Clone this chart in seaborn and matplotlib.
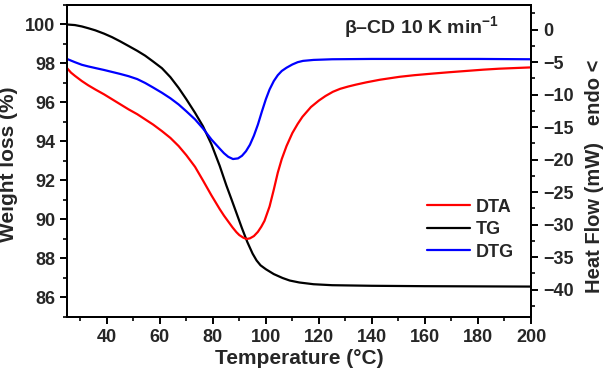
import matplotlib
matplotlib.use("Agg")
import matplotlib.pyplot as plt
from matplotlib.ticker import MultipleLocator
import seaborn as sns
import pandas as pd

# ---- data ----
t_tg = [25, 28, 30.6, 33, 35.7, 39, 42, 45, 48.2, 51.5, 54.5, 57.5, 60.8, 64, 67.1, 70, 73.3, 76.3,
        79.5, 82.6, 85.1, 87, 89, 91, 93, 95, 96.5, 98, 100, 103, 106.3, 109, 112.6, 118, 125,
        140, 160, 180, 200]
tg = [100.0, 99.97, 99.9, 99.81, 99.7, 99.53, 99.35, 99.14, 98.9, 98.65, 98.4, 98.1, 97.76, 97.3, 96.75,
      96.17, 95.47, 94.78, 93.85, 92.75, 91.75, 91.05, 90.3, 89.55, 88.85, 88.25, 87.9, 87.65, 87.45, 87.2,
      87.0, 86.87, 86.77, 86.68, 86.63, 86.6, 86.58, 86.57, 86.56]

t_dta = [25, 26.5, 28, 30.6, 33, 35.7, 39, 42, 45, 48.2, 51.5, 54.5, 57.5, 60.8, 64, 67.1, 70, 73.3,
         76.3, 79.5, 82.6, 84.2, 85.8, 87.4, 88.9, 90, 91.5, 92.7, 94, 95.5, 97, 98.3, 99.5,
         101.4, 103, 104.5, 106, 107.8, 110, 112, 113.8, 117, 120, 122.5, 125.3, 128, 131,
         134, 137.9, 143, 150.4, 156, 163, 169, 175.5, 182, 188, 194, 200]
dta = [-5.9, -6.6, -7.1, -7.9, -8.55, -9.2, -9.95, -10.7, -11.45, -12.25, -13.0, -13.8, -14.6, -15.6, -16.65,
       -17.9, -19.3, -21.1, -23.2, -25.5, -27.6, -28.6, -29.5, -30.4, -31.15, -31.6, -32.0, -32.2, -32.1,
       -31.75, -31.1, -30.3, -29.4, -27.2, -24.6, -22.0, -19.9, -17.9, -15.9, -14.5, -13.4, -11.9, -10.9,
       -10.2, -9.55, -9.1, -8.75, -8.45, -8.1, -7.7, -7.25, -7.0, -6.75, -6.55, -6.35, -6.15, -6.0, -5.9, -5.8]

t_dtg = [25, 28, 30.6, 33, 35.7, 39, 42, 45, 48.2, 51.5, 54.5, 57.5, 60.8, 64, 67.1, 70, 73.3, 76.3,
         79.5, 82.6, 84.2, 85.8, 87.6, 89.5, 91, 92.5, 94, 95.5, 97, 98.5, 100, 101.4, 103,
         104.5, 106, 107.8, 110, 112, 114, 118, 125, 140, 160, 180, 200]
dtg = [-4.5, -5.0, -5.4, -5.65, -5.9, -6.2, -6.5, -6.8, -7.15, -7.6, -8.2, -8.9, -9.7, -10.55, -11.5, -12.55,
       -13.8, -15.2, -16.9, -18.3, -19.0, -19.55, -19.9, -19.8, -19.4, -18.7, -17.7, -16.3, -14.6, -12.6,
       -10.7, -9.2, -7.9, -7.0, -6.35, -5.85, -5.35, -5.0, -4.8, -4.65, -4.55, -4.5, -4.5, -4.5, -4.55]

labels = ["DTA", "TG", "DTG"]
colors = ["#ff0000", "#000000", "#0000ff"]

df_tg = pd.DataFrame({"T": t_tg, "v": tg})
df_dta = pd.DataFrame({"T": t_dta, "v": dta})
df_dtg = pd.DataFrame({"T": t_dtg, "v": dtg})

sns.set_style("ticks")
plt.rcParams["font.family"] = ["Liberation Sans", "DejaVu Sans"]
plt.rcParams["font.weight"] = "bold"
plt.rcParams["mathtext.fontset"] = "custom"
plt.rcParams["mathtext.rm"] = "Liberation Sans:bold"
plt.rcParams["mathtext.bf"] = "Liberation Sans:bold"
plt.rcParams["mathtext.it"] = "Liberation Sans:bold"

fig = plt.figure(figsize=(6.05, 3.78), dpi=100)
ax = fig.add_axes([0.1107, 0.1614, 0.8777 - 0.1107, 0.9868 - 0.1614])
ax2 = ax.twinx()

lw = 1.6
sns.lineplot(data=df_tg, x="T", y="v", ax=ax, color=colors[1], lw=lw, label=labels[1], legend=False)
sns.lineplot(data=df_dta, x="T", y="v", ax=ax2, color=colors[0], lw=lw, label=labels[0], legend=False)
sns.lineplot(data=df_dtg, x="T", y="v", ax=ax2, color=colors[2], lw=lw, label=labels[2], legend=False)

ax.set_xlim(25, 200)
ax.set_ylim(85, 101)
ax2.set_ylim(-44.2, 3.8)

ax.xaxis.set_major_locator(MultipleLocator(20))
ax.xaxis.set_minor_locator(MultipleLocator(10))
ax.yaxis.set_major_locator(MultipleLocator(2))
ax.yaxis.set_minor_locator(MultipleLocator(1))
ax2.yaxis.set_major_locator(MultipleLocator(5))
ax2.yaxis.set_minor_locator(MultipleLocator(2.5))

for a in (ax, ax2):
    for s in a.spines.values():
        s.set_linewidth(1.4)
        s.set_color("black")
    a.tick_params(which="major", length=5, width=1.4, labelsize=13, color="black", direction="out")
    a.tick_params(which="minor", length=3, width=1.2, color="black", direction="out")
ax.tick_params(axis="x", which="both", top=False)
ax.tick_params(axis="y", which="both", right=False, left=True)
ax2.tick_params(axis="y", which="both", right=True, left=False)

for lab in ax.get_xticklabels() + ax.get_yticklabels() + ax2.get_yticklabels():
    lab.set_fontweight("bold")

ax.set_xlabel("Temperature (°C)", fontsize=15, fontweight="bold", labelpad=2)
ax.set_ylabel("Weight loss (%)", fontsize=15, fontweight="bold")
ax2.set_ylabel("Heat Flow (mW)   endo <", fontsize=14.5, fontweight="bold")
ax.yaxis.set_label_coords(-0.105, 0.49)
ax2.yaxis.set_label_coords(1.117, 0.45)

ax.text(0.765, 0.93, r"β–CD 10 K min$^{-1}$", transform=ax.transAxes, ha="center", va="center",
        fontsize=14, fontweight="bold")

h1, l1 = ax.get_legend_handles_labels()
h2, l2 = ax2.get_legend_handles_labels()
hmap = dict(zip(l1 + l2, h1 + h2))
leg = ax2.legend([hmap[k] for k in labels], labels, loc="center left",
                 bbox_to_anchor=(0.74, 0.28), frameon=False, fontsize=13,
                 handlelength=2.4, labelspacing=0.3, handletextpad=0.3)
for t in leg.get_texts():
    t.set_fontweight("bold")

fig.savefig("out.png", dpi=100)
